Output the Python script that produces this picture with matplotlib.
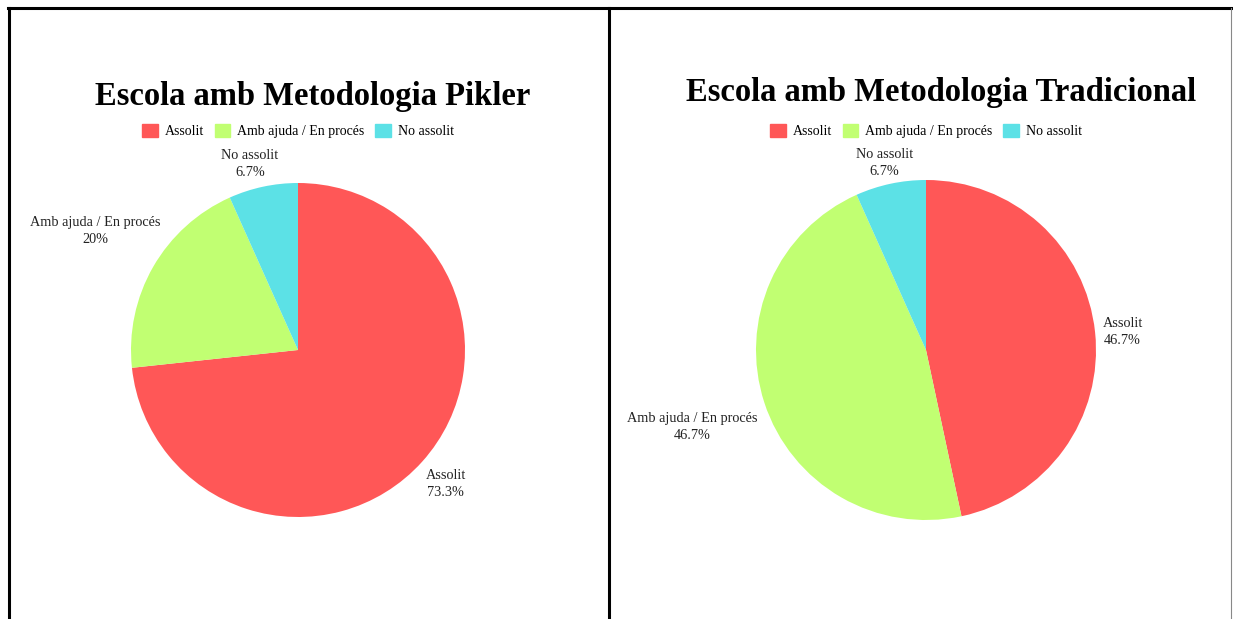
import matplotlib
matplotlib.use("Agg")
import matplotlib.pyplot as plt
import numpy as np
from matplotlib.patches import Rectangle
from matplotlib.lines import Line2D

categories = ["Assolit", "Amb ajuda / En procés", "No assolit"]
pikler_values = [73.3, 20.0, 6.7]
pikler_labels = ["73.3%", "20%", "6.7%"]
trad_values = [46.7, 46.7, 6.7]
trad_labels = ["46.7%", "46.7%", "6.7%"]
titles = ["Escola amb Metodologia Pikler", "Escola amb Metodologia Tradicional"]
colors = ["#FF5757", "#C1FF72", "#5CE1E6"]

W, H = 1233, 619
fig = plt.figure(figsize=(W / 100, H / 100), dpi=100)
plt.rcParams['font.family'] = ['Liberation Serif', 'DejaVu Serif']

def px_axes(cx, cy, r):
    return fig.add_axes([(cx - r) / W, (H - cy - r) / H, 2 * r / W, 2 * r / H])

# label placement style: (radial factor, dx px, dy px, ha)
panels = [
    dict(vals=pikler_values, labs=pikler_labels, cx=298, cy=350, r=167,
         title=titles[0], tx=313, ty=96,
         place=[(1.15, 5, -6, 'center'), (1.15, 29, 23, 'right'), (1.15, -8, -2, 'center')]),
    dict(vals=trad_values, labs=trad_labels, cx=926, cy=350, r=170,
         title=titles[1], tx=941, ty=93,
         place=[(1.15, -18, -3, 'left'), (1.15, 17, -16, 'right'), (1.15, -1, -4, 'center')]),
]

for p in panels:
    ax = px_axes(p['cx'], p['cy'], p['r'])
    wedges, _ = ax.pie(p['vals'], colors=colors, startangle=90, counterclock=False,
                       radius=1, labels=None, wedgeprops=dict(linewidth=0))
    ax.set_xlim(-1, 1)
    ax.set_ylim(-1, 1)
    ax.set_aspect('equal')
    ax.axis('off')
    for w, cat, lab, (rf, dx, dy, ha) in zip(wedges, categories, p['labs'], p['place']):
        ang = np.deg2rad((w.theta1 + w.theta2) / 2)
        x, y = rf * np.cos(ang), rf * np.sin(ang)
        ax.annotate(f"{cat}\n{lab}", xy=(x, y), xytext=(dx, dy), textcoords='offset pixels',
                    ha=ha, va='center', multialignment='center', fontsize=10.3,
                    color='#222222', annotation_clip=False, linespacing=1.4)
    fig.text(p['tx'] / W, 1 - p['ty'] / H, p['title'], ha='center', va='center',
             fontsize=23.5, fontweight='bold', color='black')
    handles = [Rectangle((0, 0), 1, 1, color=c) for c in colors]
    fig.legend(handles, categories, loc='center', bbox_to_anchor=(p['cx'] / W, 1 - 131 / H),
               ncol=3, frameon=False, fontsize=10, handlelength=1.1, handleheight=1.1,
               handletextpad=0.5, columnspacing=0.8)

# panel borders
fig.add_artist(Line2D([8.5 / W, 8.5 / W], [1 - 8 / H, 0], color='black', lw=2.2, transform=fig.transFigure))
fig.add_artist(Line2D([8 / W, 1231 / W], [1 - 8 / H, 1 - 8 / H], color='black', lw=2.2, transform=fig.transFigure))
fig.add_artist(Line2D([609 / W, 609 / W], [1 - 8 / H, 0], color='black', lw=2.2, transform=fig.transFigure))
fig.add_artist(Line2D([1231 / W, 1231 / W], [1 - 8 / H, 0], color='#888888', lw=0.8, transform=fig.transFigure))

fig.savefig("out.png", dpi=100)
